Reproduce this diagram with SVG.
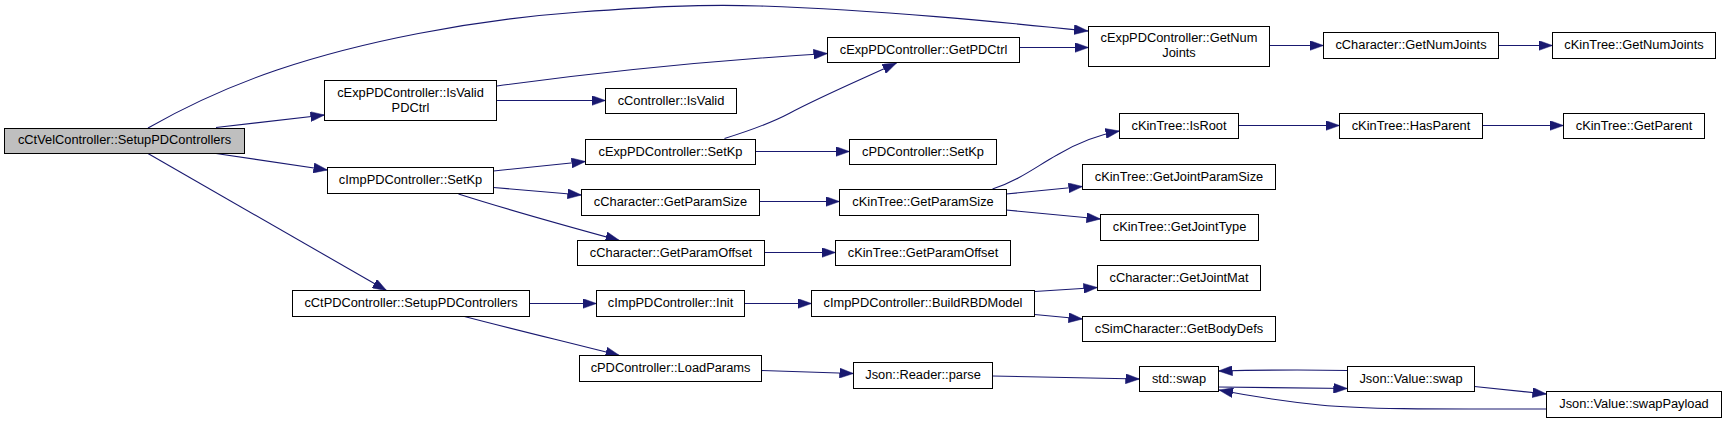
<svg xmlns="http://www.w3.org/2000/svg" width="1727" height="423" viewBox="0 0 1727 423">
<style>
.n rect{fill:#ffffff;stroke:#000000;stroke-width:1}
.n.root rect{fill:#bfbfbf}
.n text{font-family:"Liberation Sans",Arial,sans-serif;font-size:13.5px;text-anchor:middle;fill:#000000}
.e path{fill:none;stroke:#191970;stroke-width:1.1;marker-end:url(#ah)}
</style>
<defs>
<marker id="ah" markerUnits="userSpaceOnUse" markerWidth="14" markerHeight="10" refX="14" refY="5" orient="auto" viewBox="0 0 14 10">
<path d="M0,0 L14,5 L0,10 z" fill="#191970" stroke="#191970" stroke-width="0.5"/>
</marker>
</defs>
<rect width="1727" height="423" fill="#ffffff"/>
<g id="connectors" class="e">
<path d="M148,128 C190,104 230,86 277,70 C360,42 470,20 580,12 C650,7 700,4 760,6 C880,10 1000,22 1088,31"/>
<path d="M216,127.5 L324.5,115"/>
<path d="M216,153.5 L327.5,170"/>
<path d="M148,153.5 L386.5,290.5"/>
<path d="M497,86 C600,72 720,60 827.5,53.5"/>
<path d="M496.5,100.5 L605.5,100.5"/>
<path d="M1019.5,47.5 L1088.5,47.5"/>
<path d="M1269.5,45.5 L1323.5,45.5"/>
<path d="M1498.5,45.5 L1552.5,45.5"/>
<path d="M493.5,171 L585.5,161.5"/>
<path d="M493.5,187.5 L581.5,195"/>
<path d="M458.5,194 C515,212 570,227 619.5,240.5"/>
<path d="M724.5,138.5 C755,129 775,121 790,113 C820,97 860,80 896.5,63"/>
<path d="M755.5,151.5 L849.5,151.5"/>
<path d="M759.5,201.5 L839.5,201.5"/>
<path d="M992.5,189 C1020,180 1037,166 1057,155 C1077,143 1097,135 1119.5,131"/>
<path d="M1006,194 L1082.5,186.5"/>
<path d="M1006,210 L1100.5,219"/>
<path d="M764,252.5 L835.5,252.5"/>
<path d="M1238.5,125.5 L1339.5,125.5"/>
<path d="M1482.5,125.5 L1563.5,125.5"/>
<path d="M529.5,303.5 L596.5,303.5"/>
<path d="M462.5,316 C520,331 575,344 619.5,355.5"/>
<path d="M744.5,303.5 L811.5,303.5"/>
<path d="M1034.5,291.5 L1097.5,287.5"/>
<path d="M1034.5,314.5 L1082.5,319"/>
<path d="M761.5,370.5 L853.5,373.5"/>
<path d="M992.5,376 L1139.5,379"/>
<path d="M1218.5,387 L1347.5,388.5"/>
<path d="M1347.5,370.5 C1300,369.5 1260,370 1218.5,371"/>
<path d="M1474.5,386.5 L1546.5,394"/>
<path d="M1546.5,409 C1460,409 1370,410 1320,405 C1280,401 1250,396 1219,390"/>
</g>
<g id="n0" class="n root"><rect x="4.5" y="128.5" width="240" height="25"/><text transform="translate(124.5,144.3) scale(0.952,1)">cCtVelController::SetupPDControllers</text></g>
<g id="n1" class="n"><rect x="324.5" y="80.5" width="172" height="40"/><text transform="translate(410.5,96.7) scale(0.952,1)">cExpPDController::IsValid</text><text transform="translate(410.5,111.7) scale(0.952,1)">PDCtrl</text></g>
<g id="n2" class="n"><rect x="327.5" y="167.5" width="166" height="26"/><text transform="translate(410.5,184.4) scale(0.952,1)">cImpPDController::SetKp</text></g>
<g id="n3" class="n"><rect x="292.5" y="290.5" width="237" height="26"/><text transform="translate(411,307.4) scale(0.952,1)">cCtPDController::SetupPDControllers</text></g>
<g id="n4" class="n"><rect x="827.5" y="37.5" width="192" height="25"/><text transform="translate(923.5,53.8) scale(0.952,1)">cExpPDController::GetPDCtrl</text></g>
<g id="n5" class="n"><rect x="1088.5" y="26.5" width="181" height="40"/><text transform="translate(1179,42.2) scale(0.952,1)">cExpPDController::GetNum</text><text transform="translate(1179,57.2) scale(0.952,1)">Joints</text></g>
<g id="n6" class="n"><rect x="605.5" y="88.5" width="131" height="25"/><text transform="translate(671,104.8) scale(0.952,1)">cController::IsValid</text></g>
<g id="n7" class="n"><rect x="585.5" y="139.5" width="170" height="25"/><text transform="translate(670.5,155.8) scale(0.952,1)">cExpPDController::SetKp</text></g>
<g id="n8" class="n"><rect x="849.5" y="139.5" width="147" height="25"/><text transform="translate(923,155.8) scale(0.952,1)">cPDController::SetKp</text></g>
<g id="n9" class="n"><rect x="581.5" y="189.5" width="178" height="26"/><text transform="translate(670.5,206.4) scale(0.952,1)">cCharacter::GetParamSize</text></g>
<g id="n10" class="n"><rect x="839.5" y="189.5" width="167" height="26"/><text transform="translate(923,206.4) scale(0.952,1)">cKinTree::GetParamSize</text></g>
<g id="n11" class="n"><rect x="577.5" y="240.5" width="187" height="25"/><text transform="translate(671,256.8) scale(0.952,1)">cCharacter::GetParamOffset</text></g>
<g id="n12" class="n"><rect x="835.5" y="240.5" width="175" height="25"/><text transform="translate(923,256.8) scale(0.952,1)">cKinTree::GetParamOffset</text></g>
<g id="n13" class="n"><rect x="596.5" y="290.5" width="148" height="26"/><text transform="translate(670.5,307.4) scale(0.952,1)">cImpPDController::Init</text></g>
<g id="n14" class="n"><rect x="811.5" y="290.5" width="223" height="26"/><text transform="translate(923,307.4) scale(0.952,1)">cImpPDController::BuildRBDModel</text></g>
<g id="n15" class="n"><rect x="579.5" y="355.5" width="182" height="26"/><text transform="translate(670.5,372.4) scale(0.952,1)">cPDController::LoadParams</text></g>
<g id="n16" class="n"><rect x="853.5" y="362.5" width="139" height="26"/><text transform="translate(923,379.4) scale(0.952,1)">Json::Reader::parse</text></g>
<g id="n17" class="n"><rect x="1323.5" y="32.5" width="175" height="26"/><text transform="translate(1411,49.4) scale(0.952,1)">cCharacter::GetNumJoints</text></g>
<g id="n18" class="n"><rect x="1552.5" y="32.5" width="163" height="26"/><text transform="translate(1634,49.4) scale(0.952,1)">cKinTree::GetNumJoints</text></g>
<g id="n19" class="n"><rect x="1119.5" y="113.5" width="119" height="25"/><text transform="translate(1179,129.8) scale(0.952,1)">cKinTree::IsRoot</text></g>
<g id="n20" class="n"><rect x="1339.5" y="113.5" width="143" height="25"/><text transform="translate(1411,129.8) scale(0.952,1)">cKinTree::HasParent</text></g>
<g id="n21" class="n"><rect x="1563.5" y="113.5" width="141" height="25"/><text transform="translate(1634,129.8) scale(0.952,1)">cKinTree::GetParent</text></g>
<g id="n22" class="n"><rect x="1082.5" y="164.5" width="193" height="25"/><text transform="translate(1179,180.8) scale(0.952,1)">cKinTree::GetJointParamSize</text></g>
<g id="n23" class="n"><rect x="1100.5" y="214.5" width="158" height="26"/><text transform="translate(1179.5,231.4) scale(0.952,1)">cKinTree::GetJointType</text></g>
<g id="n24" class="n"><rect x="1097.5" y="265.5" width="163" height="25"/><text transform="translate(1179,281.8) scale(0.952,1)">cCharacter::GetJointMat</text></g>
<g id="n25" class="n"><rect x="1082.5" y="316.5" width="193" height="25"/><text transform="translate(1179,332.8) scale(0.952,1)">cSimCharacter::GetBodyDefs</text></g>
<g id="n26" class="n"><rect x="1139.5" y="366.5" width="79" height="25"/><text transform="translate(1179,382.8) scale(0.952,1)">std::swap</text></g>
<g id="n27" class="n"><rect x="1347.5" y="366.5" width="127" height="25"/><text transform="translate(1411,382.8) scale(0.952,1)">Json::Value::swap</text></g>
<g id="n28" class="n"><rect x="1546.5" y="391.5" width="175" height="26"/><text transform="translate(1634,408.4) scale(0.952,1)">Json::Value::swapPayload</text></g>
</svg>
